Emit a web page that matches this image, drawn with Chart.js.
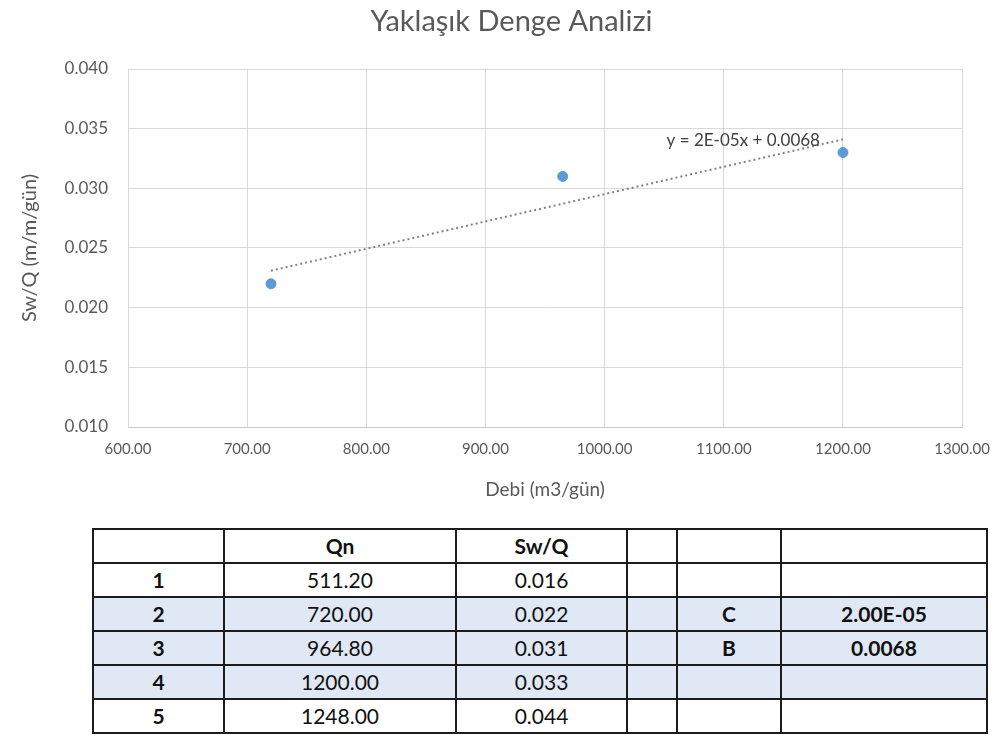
<!DOCTYPE html>
<html lang="tr">
<head>
<meta charset="utf-8">
<title>Yaklaşık Denge Analizi</title>
<script src="https://cdn.jsdelivr.net/npm/chart.js@4.4.1/dist/chart.umd.min.js"></script>
<style>
  html, body { margin: 0; padding: 0; background: #ffffff; }
  body { width: 1003px; height: 747px; position: relative; overflow: hidden; font-family: Lato, "Open Sans", sans-serif; }
  #chartBox { position: absolute; left: 0; top: 0; width: 1003px; height: 510px; }
  #dataTable {
    position: absolute; left: 92px; top: 528px;
    border-collapse: collapse; table-layout: fixed;
    font-family: Lato, "Open Sans", sans-serif; font-size: 21px; color: #111;
  }
  #dataTable td {
    border: 2px solid #1c1c1c; height: 32px; padding: 0; text-align: center; line-height: 32px;
  }
  #dataTable tr.shade td { background: #dfe8f4; }
  #dataTable .b { font-weight: bold; }
</style>
</head>
<body>
<div id="chartBox"><canvas id="chart"></canvas></div>
<table id="dataTable">
  <colgroup>
    <col style="width:131px"><col style="width:232px"><col style="width:171px">
    <col style="width:50px"><col style="width:104px"><col style="width:206px">
  </colgroup>
  <tbody id="tableBody"></tbody>
</table>
<script>
// Measured discharge vs specific drawdown
const debi = [720.00, 964.80, 1200.00];
const swq = [0.022, 0.031, 0.033];

// Linear trendline endpoints (Excel trendline across the plotted points)
const trendX = [720, 1200];
const trendY = [0.0231, 0.0341];
const trendLabel = 'y = 2E-05x + 0.0068';

// Axis ranges and tick steps
const xTicks = { min: 600, max: 1300, step: 100 };
const yTicks = { min: 0.010, max: 0.040, step: 0.005 };

// Table contents
const tableHeader = ['', 'Qn', 'Sw/Q', '', '', ''];
const rowIndex = ['1', '2', '3', '4', '5'];
const rowQn = ['511.20', '720.00', '964.80', '1200.00', '1248.00'];
const rowSwQ = ['0.016', '0.022', '0.031', '0.033', '0.044'];
const coefName = ['', 'C', 'B', '', ''];
const coefValue = ['', '2.00E-05', '0.0068', '', ''];
const shadedRows = [1, 2, 3];

const chartTitle = 'Yaklaşık Denge Analizi';

// Build the table below the chart
(function buildTable() {
  const body = document.getElementById('tableBody');
  const head = document.createElement('tr');
  tableHeader.forEach(t => {
    const td = document.createElement('td');
    td.textContent = t;
    td.className = 'b';
    head.appendChild(td);
  });
  body.appendChild(head);
  rowIndex.forEach((idx, i) => {
    const tr = document.createElement('tr');
    if (shadedRows.includes(i)) tr.className = 'shade';
    const cells = [
      [idx, 'b'], [rowQn[i], ''], [rowSwQ[i], ''], ['', ''], [coefName[i], 'b'], [coefValue[i], 'b']
    ];
    cells.forEach(([t, cls]) => {
      const td = document.createElement('td');
      td.textContent = t;
      if (cls) td.className = cls;
      tr.appendChild(td);
    });
    body.appendChild(tr);
  });
})();

const FONT = 'Lato, "Open Sans", sans-serif';
const GREY_TEXT = '#595959';
const GRID = '#d9d9d9';

// Chart title, centred over the whole chart object
const centredTitle = {
  id: 'centredTitle',
  afterDraw(chart) {
    const { ctx } = chart;
    ctx.save();
    ctx.font = '29px ' + FONT;
    ctx.fillStyle = GREY_TEXT;
    ctx.textAlign = 'center';
    ctx.textBaseline = 'middle';
    ctx.fillText(chartTitle, chart.width / 2 + 10, 22);
    ctx.restore();
  }
};

// Draws the trendline equation next to the end of the trendline
const equationLabel = {
  id: 'equationLabel',
  afterDatasetsDraw(chart) {
    const { ctx, scales } = chart;
    const px = scales.x.getPixelForValue(trendX[1]);
    const py = scales.y.getPixelForValue(trendY[1]);
    ctx.save();
    ctx.font = '17px ' + FONT;
    ctx.fillStyle = '#404040';
    ctx.textAlign = 'right';
    ctx.textBaseline = 'middle';
    ctx.fillText(trendLabel, px - 23, py + 1);
    ctx.restore();
  }
};

new Chart(document.getElementById('chart'), {
  type: 'scatter',
  data: {
    datasets: [
      {
        label: 'Sw/Q',
        data: debi.map((x, i) => ({ x, y: swq[i] })),
        backgroundColor: '#5b9bd5',
        borderColor: '#5b9bd5',
        pointRadius: 5,
        pointHoverRadius: 5,
        order: 1
      },
      {
        label: 'Trend',
        type: 'line',
        data: trendX.map((x, i) => ({ x, y: trendY[i] })),
        borderColor: '#8a8080',
        borderWidth: 2,
        borderDash: [2, 3],
        pointRadius: 0,
        fill: false,
        order: 2
      }
    ]
  },
  options: {
    responsive: true,
    maintainAspectRatio: false,
    animation: false,
    events: [],
    layout: { padding: { left: 0, right: 37, top: 69, bottom: 0 } },
    plugins: {
      legend: { display: false },
      tooltip: { enabled: false },
      title: { display: false }
    },
    scales: {
      x: {
        type: 'linear',
        min: xTicks.min,
        max: xTicks.max,
        afterFit(scale) { scale.height = 83; },
        ticks: {
          stepSize: xTicks.step,
          color: GREY_TEXT,
          padding: 13,
          font: { family: FONT, size: 15 },
          callback: v => Number(v).toFixed(2)
        },
        grid: { color: GRID, drawTicks: false },
        border: { color: '#c8c8c8', width: 1 },
        title: {
          display: true,
          text: 'Debi (m3/gün)',
          color: GREY_TEXT,
          font: { family: FONT, size: 19 },
          padding: { top: 0, bottom: 8.6 }
        }
      },
      y: {
        type: 'linear',
        min: yTicks.min,
        max: yTicks.max,
        afterFit(scale) { scale.width = 128; },
        ticks: {
          stepSize: yTicks.step,
          color: GREY_TEXT,
          padding: 20,
          font: { family: FONT, size: 17 },
          callback: v => Number(v).toFixed(3)
        },
        grid: { color: GRID, drawTicks: false },
        border: { color: GRID, width: 1 },
        title: {
          display: true,
          text: 'Sw/Q (m/m/gün)',
          color: GREY_TEXT,
          font: { family: FONT, size: 20 },
          padding: { top: 18, bottom: 0 }
        }
      }
    }
  },
  plugins: [equationLabel, centredTitle]
});
</script>
</body>
</html>
